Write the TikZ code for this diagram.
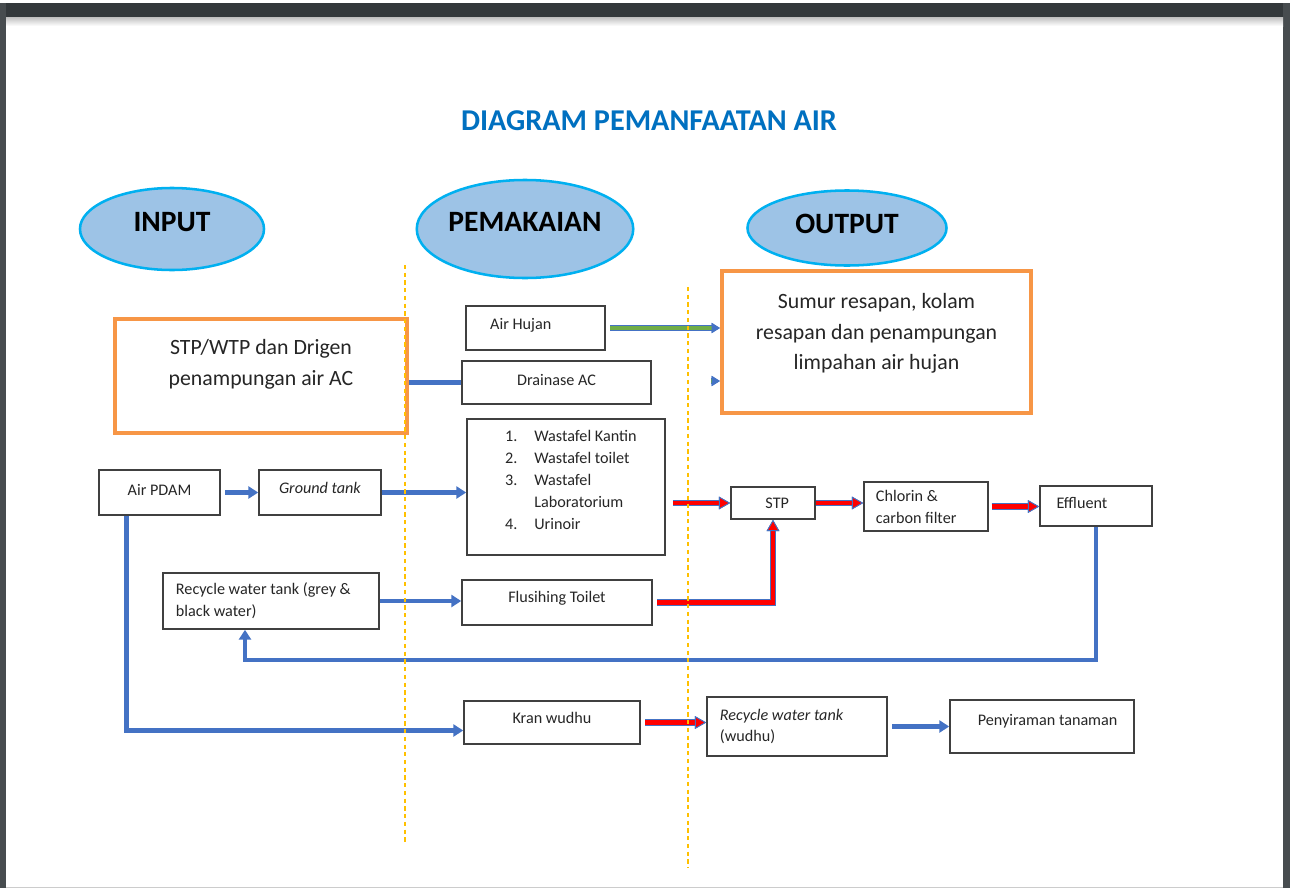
\documentclass[tikz,border=0pt]{standalone}
\usepackage{fontspec}
\setmainfont{Carlito}
\usetikzlibrary{shapes.geometric,arrows.meta,positioning,calc}

\definecolor{flowblue}{HTML}{4472C4}
\definecolor{flowgreen}{HTML}{70AD47}
\definecolor{titleblue}{HTML}{0070C0}
\definecolor{ovalfill}{HTML}{9DC3E6}
\definecolor{ovalline}{HTML}{00B0F0}
\definecolor{boxorange}{HTML}{F79646}
\definecolor{guide}{HTML}{FFC000}
\definecolor{framegray}{HTML}{33383B}
\definecolor{boxline}{HTML}{404040}
\definecolor{txtgray}{HTML}{262626}

% text sits higher in the boxes than their centre
\newcommand{\liftup}[2]{\raisebox{#1}[\height][\depth]{#2}}

\tikzset{
  oval/.style={ellipse, draw=ovalline, line width=1.8pt, fill=ovalfill, inner sep=0pt,
    font=\fontsize{21}{24}\selectfont\bfseries},
  box/.style={rectangle, draw=boxline, line width=1.1pt, inner sep=2pt, text=txtgray,
    align=center, font=\fontsize{11.5}{15.6}\selectfont},
  bigbox/.style={rectangle, draw=boxorange, line width=2.8pt, inner sep=2pt, text=txtgray,
    align=center, font=\fontsize{15.5}{22}\selectfont},
  flow/.style={draw=flowblue, line width=3.3pt, -{Triangle[length=7pt,width=8.5pt]}},
  pipe/.style={draw=flowblue, line width=3.3pt},
  redflow/.style={draw=red, line width=3pt,
    -{Triangle[length=8pt,width=9pt,line width=0.6pt,color=flowblue,fill=red]},
    preaction={draw=flowblue, line width=4.6pt}},
  greenflow/.style={draw=flowgreen, line width=2.6pt,
    -{Triangle[length=6pt,width=7pt,color=flowblue]},
    preaction={draw=flowblue, line width=4pt}},
  guideline/.style={draw=guide, line width=0.8pt, dash pattern=on 3pt off 2.5pt}
}

\begin{document}
\begin{tikzpicture}[x=0.025cm, y=-0.025cm]
  % window frame round the page
  \useasboundingbox (0,0) rectangle (1290,888);
  \fill[white] (0,0) rectangle (1290,888);
  \fill[framegray] (0,3) rectangle (1290,17);
  \fill[framegray!90] (0,3) rectangle (6,888);
  \fill[framegray!90] (1283,3) rectangle (1290,888);
  \shade[top color=black!25, bottom color=white] (6,17) rectangle (1283,26);
  \draw[black!20] (6,887) -- (1283,887);

  \node[font=\fontsize{21.5}{24}\selectfont\bfseries, text=titleblue] (title) at (649,121) {DIAGRAM PEMANFAATAN AIR};

  \node[oval, minimum width=4.6cm, minimum height=2.05cm] (input) at (172,229) {\liftup{5pt}{INPUT}\hspace{8pt}};
  \node[oval, minimum width=5.4cm, minimum height=2.45cm] (pakai) at (525,229) {\liftup{5pt}{PEMAKAIAN}};
  \node[oval, minimum width=4.975cm, minimum height=1.875cm] (output) at (847,228) {\liftup{3pt}{OUTPUT}};

  \node[bigbox, minimum width=7.3cm, minimum height=2.85cm] (stpwtp) at (261,376)
    {\liftup{8.5pt}{\begin{tabular}{@{}c@{}}STP/WTP dan Drigen\\penampungan air AC\end{tabular}}};
  \node[bigbox, minimum width=7.725cm, minimum height=3.55cm] (resapan) at (876.5,342)
    {\liftup{6.5pt}{\begin{tabular}{@{}c@{}}Sumur resapan, kolam\\resapan dan penampungan\\limpahan air hujan\end{tabular}}};

  \node[box, minimum width=3.475cm, minimum height=1.1cm] (hujan) at (535.5,328) {\liftup{2pt}{Air Hujan}\hspace{21pt}};
  \node[box, minimum width=4.725cm, minimum height=1.075cm] (drainase) at (556.5,382.5) {\liftup{2pt}{Drainase AC}};
  \node[box, minimum width=4.95cm, minimum height=3.4cm] (wastafel) at (566,487)
    {\hspace*{7pt}\liftup{4pt}{\begin{tabular}{@{}l@{\hspace{12pt}}l@{}}
      1. & Wastafel Kantin\\
      2. & Wastafel toilet\\
      3. & Wastafel\\
         & Laboratorium\\
      4. & Urinoir
    \end{tabular}}};
  \node[box, minimum width=3.025cm, minimum height=1.125cm] (pdam) at (159.5,492.5) {\liftup{2pt}{Air PDAM}};
  \node[box, minimum width=3.05cm, minimum height=1.125cm] (ground) at (320,492.5) {\liftup{3pt}{\textit{Ground tank}}};
  \node[box, minimum width=2.1cm, minimum height=0.8cm] (stp) at (773,503) {\hspace{6pt}STP};
  \node[box, minimum width=3.1cm, minimum height=1.225cm, text width=2.5cm, inner xsep=0.3cm, align=flush left] (chlorin) at (926,506.5) {Chlorin \&\\carbon filter};
  \node[box, minimum width=2.8cm, minimum height=1cm] (effluent) at (1096,506) {\liftup{2pt}{Effluent}\hspace{20pt}};
  \node[box, minimum width=5.4cm, minimum height=1.4cm, text width=4.75cm, inner xsep=0.325cm, align=flush left] (recycle) at (271,601) {Recycle water tank (grey \&\\black water)};
  \node[box, minimum width=4.75cm, minimum height=1.125cm] (flush) at (557,602.5) {\liftup{3pt}{Flusihing Toilet}};
  \node[box, minimum width=4.4cm, minimum height=1.075cm] (kran) at (552,722.5) {\liftup{3pt}{Kran wudhu}};
  \node[box, minimum width=4.5cm, minimum height=1.475cm, text width=3.85cm, inner xsep=0.325cm, align=flush left] (wudhu) at (797,726.5) {\textit{Recycle water tank}\\(wudhu)};
  \node[box, minimum width=4.6cm, minimum height=1.325cm] (siram) at (1042,726.5) {\hspace*{8pt}\liftup{4pt}{Penyiraman tanaman}};

  % flows
  \coordinate (acstub) at (711,381);
  \coordinate (loop) at (245,660);
  \draw[pipe] (stpwtp.east |- drainase.west) -- (drainase.west);
  \draw[greenflow, shorten <=3pt] (hujan.east) -- (hujan.east -| resapan.west);
  \draw[greenflow] (acstub) -- (acstub -| resapan.west);
  \draw[flow, shorten <=3pt] (pdam.east) -- (ground.west);
  \draw[flow] (ground.east) -- (ground.east -| wastafel.west);
  \draw[redflow, shorten <=5pt] (wastafel.east |- stp.west) -- (stp.west);
  \draw[redflow] (stp.east) -- (stp.east -| chlorin.west);
  \draw[redflow, shorten <=2pt] (chlorin.east) -- (chlorin.east -| effluent.west);
  \draw[flow] (effluent.south) |- (loop) -- (loop |- recycle.south);
  \draw[flow] (recycle.east) -- (recycle.east -| flush.west);
  \draw[redflow, shorten <=3pt] (flush.east) -| (stp.south);
  \draw[flow] ($(pdam.south)+(-33,0)$) |- ($(kran.west)+(0,8)$);
  \draw[redflow, shorten <=3pt] (kran.east) -- (kran.east -| wudhu.west);
  \draw[flow, shorten <=3pt] (wudhu.east) -- (wudhu.east -| siram.west);

  % column guides
  \draw[guideline] (405,265) -- (405,845);
  \draw[guideline] (688,287) -- (688,868);
\end{tikzpicture}
\end{document}
